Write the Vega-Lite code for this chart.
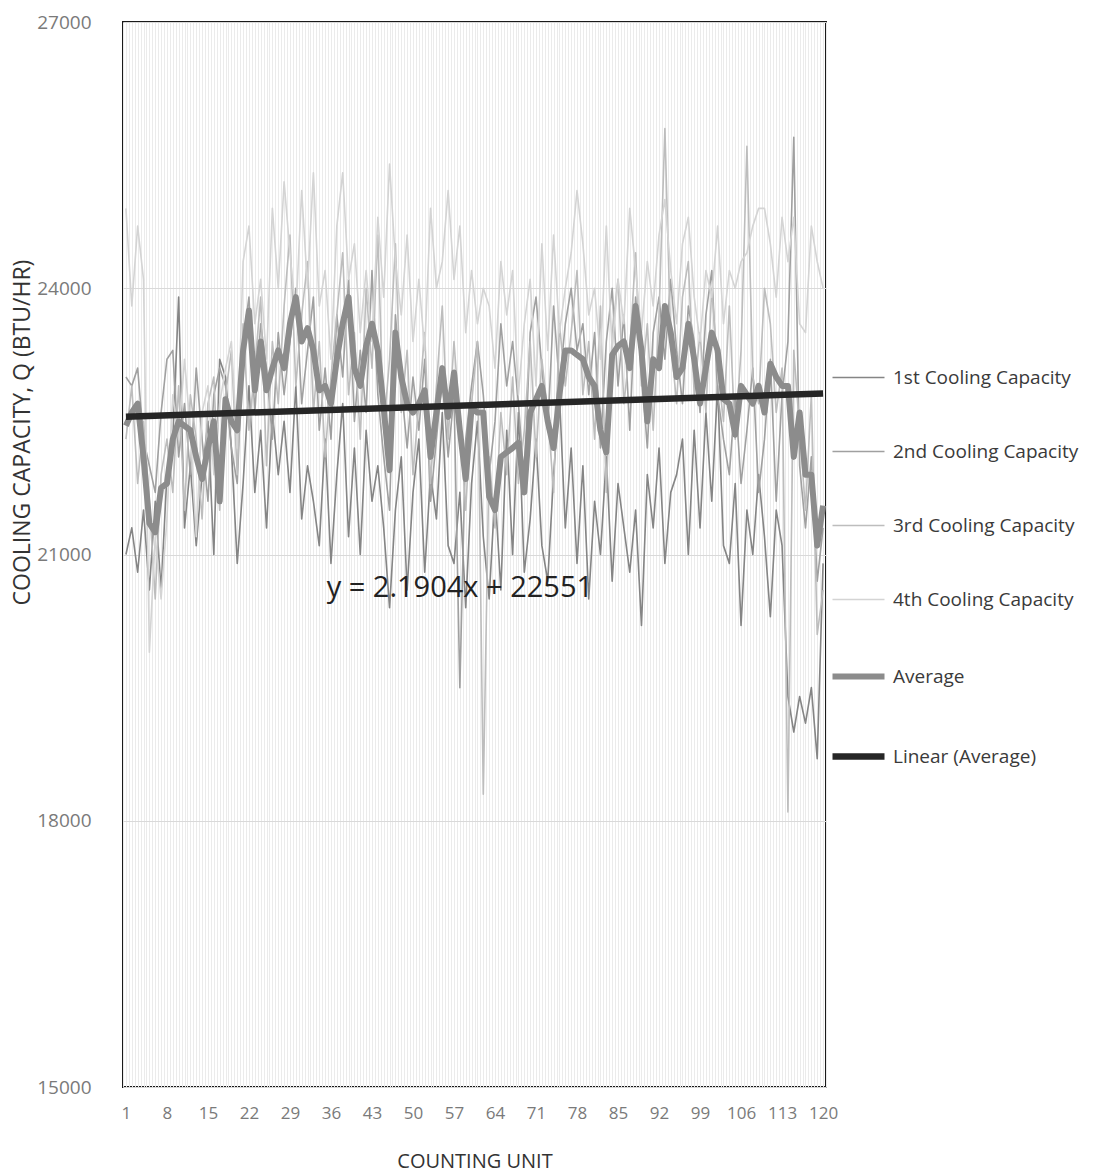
{
"$schema": "https://vega.github.io/schema/vega-lite/v6.json",
"width": 703,
"height": 1065,
"autosize": {"type": "none"},
"padding": {"left": 123, "top": 22, "right": 274, "bottom": 87},
"background": "white",
"config": {"font": "Open Sans", "view": {"stroke": "#1a1a1a", "strokeWidth": 2}},
"datasets": {
"main": [
{"u":1,"s1":21000,"s2":23000,"s3":22300,"s4":24900,"avg":22450},
{"u":2,"s1":21300,"s2":22900,"s3":22900,"s4":23800,"avg":22600},
{"u":3,"s1":20800,"s2":23100,"s3":21800,"s4":24700,"avg":22700},
{"u":4,"s1":21500,"s2":22300,"s3":22500,"s4":24100,"avg":22100},
{"u":5,"s1":20600,"s2":22000,"s3":21600,"s4":19900,"avg":21350},
{"u":6,"s1":21600,"s2":21700,"s3":20500,"s4":21200,"avg":21250},
{"u":7,"s1":20600,"s2":22600,"s3":21900,"s4":20500,"avg":21750},
{"u":8,"s1":21900,"s2":23200,"s3":22300,"s4":21400,"avg":21800},
{"u":9,"s1":22300,"s2":23300,"s3":21700,"s4":22800,"avg":22300},
{"u":10,"s1":23900,"s2":22100,"s3":22900,"s4":22300,"avg":22500},
{"u":11,"s1":21300,"s2":22700,"s3":21500,"s4":23200,"avg":22450},
{"u":12,"s1":22000,"s2":21900,"s3":22800,"s4":22400,"avg":22400},
{"u":13,"s1":21100,"s2":23100,"s3":22300,"s4":21200,"avg":22100},
{"u":14,"s1":21900,"s2":22300,"s3":21400,"s4":22600,"avg":21850},
{"u":15,"s1":22500,"s2":21600,"s3":22700,"s4":22900,"avg":22200},
{"u":16,"s1":21000,"s2":22800,"s3":23000,"s4":21900,"avg":22500},
{"u":17,"s1":23200,"s2":23100,"s3":21500,"s4":22700,"avg":21600},
{"u":18,"s1":23000,"s2":22900,"s3":22800,"s4":23100,"avg":22750},
{"u":19,"s1":22200,"s2":22200,"s3":23300,"s4":23400,"avg":22500},
{"u":20,"s1":20900,"s2":21800,"s3":21900,"s4":22200,"avg":22400},
{"u":21,"s1":21800,"s2":23400,"s3":23600,"s4":24300,"avg":23300},
{"u":22,"s1":22900,"s2":23900,"s3":22400,"s4":24700,"avg":23750},
{"u":23,"s1":21700,"s2":22600,"s3":23100,"s4":23600,"avg":22850},
{"u":24,"s1":22400,"s2":23600,"s3":23900,"s4":24100,"avg":23400},
{"u":25,"s1":21300,"s2":23100,"s3":22000,"s4":23200,"avg":22850},
{"u":26,"s1":22600,"s2":22300,"s3":23400,"s4":24900,"avg":23100},
{"u":27,"s1":21900,"s2":23500,"s3":22700,"s4":24000,"avg":23300},
{"u":28,"s1":22500,"s2":22800,"s3":23800,"s4":25200,"avg":23100},
{"u":29,"s1":21700,"s2":23400,"s3":24600,"s4":24400,"avg":23600},
{"u":30,"s1":22900,"s2":24000,"s3":22900,"s4":23700,"avg":23900},
{"u":31,"s1":21400,"s2":22700,"s3":23700,"s4":25100,"avg":23400},
{"u":32,"s1":22000,"s2":23300,"s3":24300,"s4":24000,"avg":23550},
{"u":33,"s1":21600,"s2":23900,"s3":22600,"s4":25300,"avg":23300},
{"u":34,"s1":21100,"s2":22400,"s3":23400,"s4":23800,"avg":22850},
{"u":35,"s1":22300,"s2":23100,"s3":22100,"s4":24200,"avg":22900},
{"u":36,"s1":20900,"s2":22300,"s3":23000,"s4":23200,"avg":22700},
{"u":37,"s1":21900,"s2":23700,"s3":23700,"s4":24700,"avg":23200},
{"u":38,"s1":22700,"s2":23000,"s3":24400,"s4":25300,"avg":23600},
{"u":39,"s1":21200,"s2":24100,"s3":22800,"s4":24100,"avg":23900},
{"u":40,"s1":22200,"s2":22500,"s3":23500,"s4":24500,"avg":23100},
{"u":41,"s1":21000,"s2":23300,"s3":22300,"s4":23500,"avg":22900},
{"u":42,"s1":22400,"s2":22600,"s3":24000,"s4":24200,"avg":23350},
{"u":43,"s1":21600,"s2":24200,"s3":23100,"s4":23400,"avg":23600},
{"u":44,"s1":22000,"s2":22800,"s3":24600,"s4":24800,"avg":23300},
{"u":45,"s1":21300,"s2":22100,"s3":22400,"s4":23900,"avg":22650},
{"u":46,"s1":20400,"s2":21500,"s3":23200,"s4":25400,"avg":21950},
{"u":47,"s1":21500,"s2":23700,"s3":24500,"s4":24300,"avg":23500},
{"u":48,"s1":22100,"s2":22900,"s3":22600,"s4":23700,"avg":23000},
{"u":49,"s1":20600,"s2":22200,"s3":23300,"s4":24600,"avg":22700},
{"u":50,"s1":21700,"s2":23000,"s3":21900,"s4":23400,"avg":22600},
{"u":51,"s1":22300,"s2":22400,"s3":22700,"s4":24100,"avg":22700},
{"u":52,"s1":20800,"s2":23200,"s3":23500,"s4":23300,"avg":22850},
{"u":53,"s1":21900,"s2":21600,"s3":21800,"s4":24900,"avg":22100},
{"u":54,"s1":21400,"s2":22300,"s3":22900,"s4":24000,"avg":22600},
{"u":55,"s1":22600,"s2":23000,"s3":23800,"s4":24300,"avg":23100},
{"u":56,"s1":21100,"s2":22100,"s3":22300,"s4":25100,"avg":22550},
{"u":57,"s1":20900,"s2":22800,"s3":23400,"s4":24100,"avg":23050},
{"u":58,"s1":21700,"s2":19500,"s3":22500,"s4":24700,"avg":22400},
{"u":59,"s1":20400,"s2":22300,"s3":21500,"s4":23500,"avg":21850},
{"u":60,"s1":21800,"s2":22900,"s3":22700,"s4":24200,"avg":22650},
{"u":61,"s1":22500,"s2":23400,"s3":23400,"s4":23600,"avg":22600},
{"u":62,"s1":21200,"s2":22800,"s3":18300,"s4":24000,"avg":22600},
{"u":63,"s1":20500,"s2":21900,"s3":22100,"s4":23800,"avg":21650},
{"u":64,"s1":21700,"s2":22500,"s3":21300,"s4":23100,"avg":21500},
{"u":65,"s1":20600,"s2":23600,"s3":22600,"s4":24300,"avg":22100},
{"u":66,"s1":22400,"s2":22900,"s3":21900,"s4":23700,"avg":22150},
{"u":67,"s1":21000,"s2":23400,"s3":23000,"s4":24200,"avg":22200},
{"u":68,"s1":22600,"s2":22700,"s3":21800,"s4":22800,"avg":22260},
{"u":69,"s1":20800,"s2":21800,"s3":22400,"s4":23600,"avg":21700},
{"u":70,"s1":21400,"s2":23500,"s3":23400,"s4":24100,"avg":22600},
{"u":71,"s1":22300,"s2":23900,"s3":22100,"s4":22900,"avg":22750},
{"u":72,"s1":21100,"s2":23100,"s3":23200,"s4":24500,"avg":22900},
{"u":73,"s1":20700,"s2":22400,"s3":22600,"s4":23300,"avg":22500},
{"u":74,"s1":21900,"s2":23800,"s3":21700,"s4":24600,"avg":22200},
{"u":75,"s1":22800,"s2":22900,"s3":23600,"s4":23500,"avg":22800},
{"u":76,"s1":21300,"s2":23600,"s3":22900,"s4":24000,"avg":23300},
{"u":77,"s1":22200,"s2":24000,"s3":23500,"s4":24400,"avg":23300},
{"u":78,"s1":20900,"s2":23300,"s3":24200,"s4":25100,"avg":23250},
{"u":79,"s1":22000,"s2":23600,"s3":22800,"s4":24500,"avg":23200},
{"u":80,"s1":20500,"s2":22800,"s3":23400,"s4":23700,"avg":23000},
{"u":81,"s1":21600,"s2":23500,"s3":22300,"s4":24000,"avg":22900},
{"u":82,"s1":21000,"s2":22200,"s3":23800,"s4":23200,"avg":22400},
{"u":83,"s1":22100,"s2":23400,"s3":21700,"s4":24700,"avg":22150},
{"u":84,"s1":20700,"s2":24000,"s3":23500,"s4":23300,"avg":23250},
{"u":85,"s1":21800,"s2":22900,"s3":24100,"s4":24100,"avg":23350},
{"u":86,"s1":21300,"s2":23700,"s3":22700,"s4":23600,"avg":23400},
{"u":87,"s1":20800,"s2":22400,"s3":23300,"s4":24900,"avg":23100},
{"u":88,"s1":21500,"s2":23900,"s3":24400,"s4":24200,"avg":23800},
{"u":89,"s1":20200,"s2":23100,"s3":22900,"s4":23500,"avg":23300},
{"u":90,"s1":21900,"s2":22200,"s3":23600,"s4":24300,"avg":22500},
{"u":91,"s1":21300,"s2":23500,"s3":22400,"s4":23800,"avg":23200},
{"u":92,"s1":22200,"s2":23900,"s3":23700,"s4":24600,"avg":23100},
{"u":93,"s1":20900,"s2":23200,"s3":25800,"s4":25000,"avg":23800},
{"u":94,"s1":21700,"s2":24100,"s3":23400,"s4":24200,"avg":23500},
{"u":95,"s1":21900,"s2":23300,"s3":22700,"s4":23600,"avg":23000},
{"u":96,"s1":22300,"s2":22700,"s3":23900,"s4":24500,"avg":23100},
{"u":97,"s1":21000,"s2":23800,"s3":24300,"s4":24800,"avg":23600},
{"u":98,"s1":22400,"s2":23400,"s3":22800,"s4":23900,"avg":23200},
{"u":99,"s1":21300,"s2":22600,"s3":23500,"s4":23400,"avg":22700},
{"u":100,"s1":22600,"s2":23700,"s3":22600,"s4":24200,"avg":23100},
{"u":101,"s1":21600,"s2":24200,"s3":24000,"s4":23900,"avg":23500},
{"u":102,"s1":22900,"s2":22800,"s3":23100,"s4":24700,"avg":23300},
{"u":103,"s1":21100,"s2":22300,"s3":22500,"s4":23600,"avg":22750},
{"u":104,"s1":20900,"s2":21900,"s3":23800,"s4":24200,"avg":22700},
{"u":105,"s1":21800,"s2":22800,"s3":22300,"s4":24000,"avg":22350},
{"u":106,"s1":20200,"s2":21800,"s3":23300,"s4":24300,"avg":22900},
{"u":107,"s1":21500,"s2":22400,"s3":25600,"s4":24400,"avg":22800},
{"u":108,"s1":21000,"s2":23100,"s3":23000,"s4":24700,"avg":22700},
{"u":109,"s1":21900,"s2":21700,"s3":22700,"s4":24900,"avg":22900},
{"u":110,"s1":21200,"s2":22300,"s3":24000,"s4":24900,"avg":22600},
{"u":111,"s1":20300,"s2":23200,"s3":23600,"s4":24500,"avg":23150},
{"u":112,"s1":21500,"s2":21600,"s3":22600,"s4":23900,"avg":23000},
{"u":113,"s1":21100,"s2":22800,"s3":23100,"s4":24800,"avg":22900},
{"u":114,"s1":19400,"s2":23400,"s3":18100,"s4":24300,"avg":22900},
{"u":115,"s1":19000,"s2":25700,"s3":23300,"s4":24800,"avg":22100},
{"u":116,"s1":19400,"s2":22000,"s3":22400,"s4":23600,"avg":22600},
{"u":117,"s1":19100,"s2":21300,"s3":21500,"s4":23500,"avg":21900},
{"u":118,"s1":19500,"s2":22100,"s3":22800,"s4":24700,"avg":21900},
{"u":119,"s1":18700,"s2":20700,"s3":20100,"s4":24300,"avg":21100},
{"u":120,"s1":20900,"s2":21300,"s3":20600,"s4":24000,"avg":21550}
],
"lin": [
{"u":1,"key":"lin","value":22553.19},
{"u":120,"key":"lin","value":22813.85}
],
"note": [
{"u":58,"value":20620,"t":"y = 2.1904x + 22551"}
]
},
"encoding": {
"x": {"field": "u", "type": "quantitative",
 "scale": {"domain": [0.5, 120.5], "nice": false, "zero": false},
 "axis": {"title": "COUNTING UNIT", "tickCount": 240,
  "labelExpr": "(datum.value % 1 === 0 && (datum.value - 1) % 7 === 0) ? format(datum.value, 'd') : ''",
  "labelOverlap": false, "labelFlush": false, "grid": true, "gridColor": "#ebebeb", "gridWidth": 1,
  "domain": false, "ticks": false, "labelFontSize": 17, "labelColor": "#7a7a7a", "labelPadding": 18,
  "labelFont": "Open Sans", "titleFont": "Open Sans",
  "titleFontSize": 20, "titleFontWeight": "normal", "titleColor": "#333333", "titlePadding": 30}},
"y": {"field": "value", "type": "quantitative",
 "scale": {"domain": [15000, 27000], "nice": false, "zero": false},
 "axis": {"title": "COOLING CAPACITY, Q (BTU/HR)", "values": [15000, 18000, 21000, 24000, 27000], "format": "d",
  "grid": true, "gridColor": "#d9d9d9", "domain": false, "ticks": false,
  "labelFontSize": 19, "labelColor": "#7a7a7a", "labelPadding": 32, "labelFont": "Open Sans",
  "titleFont": "Open Sans", "titleFontSize": 23, "titleFontWeight": "normal", "titleColor": "#333333",
  "titleX": -101, "titleY": 410, "titleAngle": 270, "titleAlign": "center", "titleBaseline": "middle"}},
"color": {"field": "key", "type": "nominal",
 "scale": {"domain": ["s1", "s2", "s3", "s4", "avg", "lin"], "range": ["#858585", "#a0a0a0", "#bdbdbd", "#d4d4d4", "#8c8c8c", "#262626"]},
 "legend": {"orient": "none", "legendX": 726, "legendY": 346, "title": null, "symbolType": "stroke", "symbolSize": 2704,
  "labelFontSize": 19, "labelColor": "#3a3a3a", "labelFont": "Open Sans", "labelOffset": 25, "labelLimit": 400, "rowPadding": 54, "padding": 0,
  "labelExpr": "datum.label == 's1' ? '1st Cooling Capacity' : datum.label == 's2' ? '2nd Cooling Capacity' : datum.label == 's3' ? '3rd Cooling Capacity' : datum.label == 's4' ? '4th Cooling Capacity' : datum.label == 'avg' ? 'Average' : 'Linear (Average)'",
  "encode": {"symbols": {"update": {"strokeWidth": {"signal": "datum.value == 'avg' ? 6 : datum.value == 'lin' ? 6.5 : 1.6"}}}}}}
},
"layer": [
{"data": {"name": "main"},
 "transform": [{"fold": ["s1", "s2", "s3", "s4"], "as": ["key", "value"]}],
 "mark": {"type": "line", "strokeJoin": "round", "strokeWidth": 1.6}},
{"data": {"name": "main"},
 "transform": [{"fold": ["avg"], "as": ["key", "value"]}],
 "mark": {"type": "line", "strokeJoin": "round", "strokeWidth": 6}},
{"data": {"name": "lin"},
 "mark": {"type": "line", "strokeCap": "butt", "strokeWidth": 6.5}},
{"data": {"name": "note"},
 "mark": {"type": "text", "fontSize": 29, "font": "Open Sans", "align": "center", "baseline": "middle"},
 "encoding": {"text": {"field": "t"}, "color": {"value": "#222222"}}}
]
}
